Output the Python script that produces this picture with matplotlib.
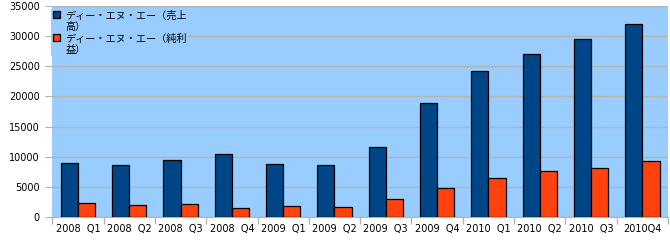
import numpy as np
import matplotlib.pyplot as plt
from matplotlib.ticker import MultipleLocator

plt.rcParams['font.family'] = ['DejaVu Sans', 'Noto Sans CJK JP']

quarters = ["2008  Q1", "2008  Q2", "2008  Q3", "2008  Q4",
            "2009  Q1", "2009  Q2", "2009  Q3", "2009  Q4",
            "2010  Q1", "2010  Q2", "2010  Q3", "2010Q4"]
sales = [8950, 8600, 9450, 10450, 8800, 8600, 11600, 19000, 24150, 26980, 29470, 31950]
profit = [2300, 2000, 2150, 1500, 1850, 1700, 3000, 4800, 6420, 7580, 8080, 9240]
labels = ["ディー・エヌ・エー（売上\n高）", "ディー・エヌ・エー（純利\n益）"]

bg = "#99ccff"

fig = plt.figure(figsize=(6.7, 2.42), dpi=100)
ax = fig.add_axes([0.078, 0.103, 0.919, 0.872])

x = np.arange(len(quarters))
w = 0.335
ax.bar(x - w / 2, sales, w, color="#004586", edgecolor="black", linewidth=0.9,
       label=labels[0], zorder=3)
ax.bar(x + w / 2, profit, w, color="#ff420e", edgecolor="black", linewidth=0.9,
       label=labels[1], zorder=3)

ax.set_facecolor(bg)
ax.set_xlim(-0.5, len(quarters) - 0.5)
ax.set_ylim(0, 35000)
ax.yaxis.set_major_locator(MultipleLocator(5000))
ax.grid(axis="y", color="#b3b3b3", linewidth=1, zorder=1)
for s in ["top", "right", "left"]:
    ax.spines[s].set_visible(False)
ax.spines["bottom"].set_color("#b3b3b3")

# category labels centred, tick marks on category borders
ax.set_xticks(x)
ax.set_xticklabels(quarters, fontsize=7)
ax.tick_params(axis="x", length=0, pad=5)
ax.set_xticks(np.arange(len(quarters) + 1) - 0.5, minor=True)
ax.tick_params(axis="x", which="minor", length=5, color="#b3b3b3", width=1)
ax.tick_params(axis="y", labelsize=7, length=5, color="#b3b3b3", pad=4)

leg = ax.legend(loc="upper left", bbox_to_anchor=(-0.002, 0.985),
                frameon=True, facecolor=bg, edgecolor="none", framealpha=1,
                fancybox=False,
                prop={'family': ['Noto Sans CJK JP'], 'size': 7.3},
                handlelength=0.7, handleheight=0.7, handletextpad=0.55,
                labelspacing=0.2, borderaxespad=0.0, borderpad=0.15)
leg.set_zorder(5)
for t in leg.get_texts():
    t.set_linespacing(1.1)
# put the colour box next to the first line of each label
for col in leg._legend_handle_box.get_children():
    for row in col.get_children():
        row.align = "top"

fig.savefig("out.png", dpi=100)
